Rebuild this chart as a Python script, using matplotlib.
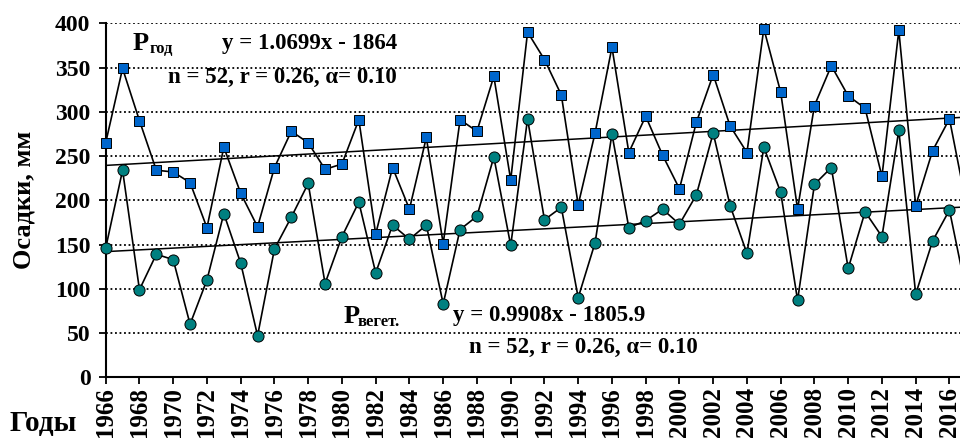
import numpy as np
import matplotlib
matplotlib.use("Agg")
import matplotlib.pyplot as plt
import matplotlib.ticker as ticker

# --- data ------------------------------------------------------------------
years = np.arange(1966, 2018)

p_year = [265, 349, 290, 234, 232, 220, 169, 260, 208, 170,
          237, 278, 265, 235, 241, 291, 162, 237, 190, 271,
          151, 291, 278, 340, 223, 390, 359, 319, 195, 276,
          373, 254, 295, 251, 213, 288, 342, 284, 254, 394,
          322, 190, 307, 352, 318, 304, 227, 392, 194, 256,
          292, 195]

p_veg = [146, 234, 99, 139, 133, 60, 110, 185, 129, 47,
         145, 181, 219, 106, 159, 198, 118, 172, 156, 172,
         83, 167, 182, 249, 149, 292, 178, 192, 90, 152,
         275, 169, 177, 190, 173, 206, 276, 194, 140, 260,
         209, 87, 218, 237, 123, 187, 159, 279, 94, 154,
         189, 96]

# linear trends as printed on the chart
trend_year = (1.0699, -1864.0)
trend_veg = (0.9908, -1805.9)

year_ticks = np.arange(1966, 2017, 2)
y_ticks = np.arange(0, 401, 50)

BLUE = "#0066cc"
TEAL = "#008080"
SERIF = ["Liberation Serif", "DejaVu Serif"]

plt.rcParams["font.family"] = SERIF
plt.rcParams["font.weight"] = "bold"

fig = plt.figure(figsize=(9.6, 4.41), dpi=100)
fig.patch.set_facecolor("white")
ax = fig.add_axes([0.1101, 0.1444, 1.0 - 0.1101, 0.9472 - 0.1444])

for yv in y_ticks[1:]:
    ax.axhline(yv, color="black", lw=1.3, ls=(0, (1, 1.5)), zorder=1)

tx = np.array([1966, 2017])
ax.plot(tx, trend_year[0] * tx + trend_year[1], color="black", lw=1.1, zorder=2)
ax.plot(tx, trend_veg[0] * tx + trend_veg[1], color="black", lw=1.1, zorder=2)

ax.plot(years, p_veg, color="black", lw=1.2, marker="o", ms=8,
        mfc=TEAL, mec="black", mew=0.7, zorder=3, clip_on=False)
ax.plot(years, p_year, color="black", lw=1.2, marker="s", ms=7.8,
        mfc=BLUE, mec="black", mew=0.7, zorder=4, clip_on=False)

ax.set_xlim(1966, 1966 + (960 - 105.7) / 16.875)
ax.set_ylim(0, 400)
ax.set_xticks(year_ticks)
ax.set_xticklabels([str(y) for y in year_ticks], rotation=90, fontsize=18,
                   fontweight="bold")
ax.set_yticks(y_ticks)
ax.yaxis.set_major_formatter(ticker.FormatStrFormatter("%d"))
for lab in ax.get_yticklabels():
    lab.set_fontsize(17)
    lab.set_fontweight("bold")
ax.tick_params(direction="out", length=5, width=1.3, colors="black")
ax.tick_params(axis="x", pad=2)
ax.tick_params(axis="y", pad=6)

for side in ("top", "right"):
    ax.spines[side].set_visible(False)
for side in ("left", "bottom"):
    ax.spines[side].set_linewidth(1.5)

ax.set_ylabel("Осадки, мм", fontsize=19, fontweight="bold", labelpad=14)
fig.text(10 / 960, 1 - 423 / 441, "Годы", fontsize=21, fontweight="bold",
         va="center", ha="left")

# annotations
ax.text(1967.6, 369.6, "P", fontsize=19, fontweight="bold", va="baseline")
ax.text(1968.6, 366, "год", fontsize=12, fontweight="bold", va="baseline")
ax.text(1972.9, 377.5, "y = 1.0699x - 1864", fontsize=16.5,
        fontweight="bold", va="center")
ax.text(1969.7, 339, "n = 52, r = 0.26, α= 0.10", fontsize=16.5,
        fontweight="bold", va="center")

ax.text(1980.1, 61.3, "P", fontsize=19, fontweight="bold", va="baseline")
ax.text(1980.95, 58, "вегет.", fontsize=12, fontweight="bold", va="baseline")
ax.text(1986.6, 69.3, "y = 0.9908x - 1805.9", fontsize=16.5,
        fontweight="bold", va="center")
ax.text(1987.5, 34.2, "n = 52, r = 0.26, α= 0.10", fontsize=16.5,
        fontweight="bold", va="center")

fig.savefig("out.png", dpi=100, facecolor="white")
